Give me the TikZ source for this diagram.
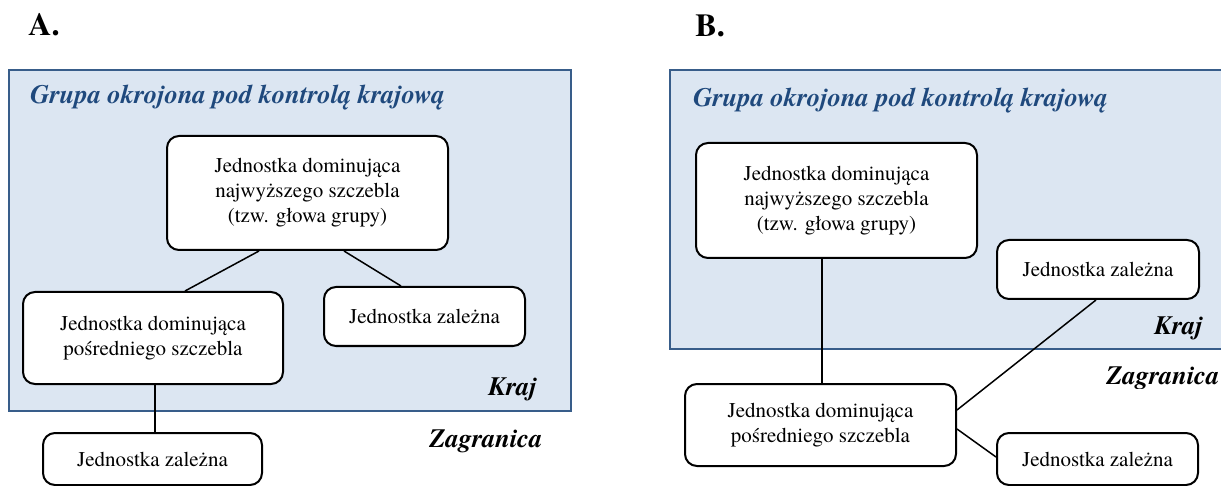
\documentclass[tikz,border=0pt]{standalone}
\usepackage{fontspec}
\setmainfont{texgyretermes}[Extension=.otf, UprightFont=*-regular, BoldFont=*-bold, ItalicFont=*-italic, BoldItalicFont=*-bolditalic]
\usetikzlibrary{calc}
\definecolor{regfill}{HTML}{DCE6F2}
\definecolor{regdraw}{HTML}{385D8A}
\definecolor{titleblue}{HTML}{1F497D}
\begin{document}
\begin{tikzpicture}[x=0.5pt,y=-0.5pt,
  box/.style={draw=black,line width=1pt,rounded corners=6pt,fill=white,align=center,inner sep=0pt,font=\fontsize{10.5}{12.5}\selectfont},
  conn/.style={draw=black,line width=0.75pt},
  region/.style={draw=regdraw,line width=1pt,fill=regfill,inner sep=0pt},
  rtitle/.style={font=\fontsize{13.25}{15}\selectfont\bfseries\itshape,text=titleblue,inner sep=0pt,anchor=base west},
  side/.style={font=\fontsize{13.25}{15}\selectfont\bfseries\itshape,inner sep=0pt},
  panel/.style={font=\fontsize{16}{18}\selectfont\bfseries,inner sep=0pt,anchor=base west}]
\clip (0,0) rectangle (1221,486);
\fill[white] (0,0) rectangle (1221,486);
% panel letters
\node[panel] (labA) at (28,36) {A.};
\node[panel] (labB) at (695,37) {B.};
% regions
\node[region,minimum width=281pt,minimum height=170.5pt] (regA) at (290,240.5) {};
\node[region,minimum width=285pt,minimum height=139.5pt] (regB) at (955,209.5) {};
\node[rtitle] (titA) at (30,104) {Grupa okrojona pod kontrolą krajową};
\node[rtitle] (titB) at (693,107) {Grupa okrojona pod kontrolą krajową};
\node[side,anchor=base east] (krajA) at (537,395) {Kraj};
\node[side,anchor=base west] (zagA) at (429,447) {Zagranica};
\node[side,anchor=base east] (krajB) at (1203,335) {Kraj};
\begin{scope}
\clip (1000,300) rectangle (1221,388);
\node[side,anchor=base west] (zagB) at (1106,384) {Zagranica};
\end{scope}
% nodes A
\node[box,minimum width=140.5pt,minimum height=57pt] (topA) at (307.5,193) {Jednostka dominująca\\najwyższego szczebla\\(tzw. głowa grupy)};
\node[box,minimum width=130pt,minimum height=46pt] (midA) at (153,338) {Jednostka dominująca\\pośredniego szczebla};
\node[box,minimum width=100.5pt,minimum height=29.5pt] (zalA1) at (424.5,316.5) {Jednostka zależna};
\node[box,minimum width=109.5pt,minimum height=26pt] (zalA2) at (152.5,459) {Jednostka zależna};
% nodes B
\node[box,minimum width=140.5pt,minimum height=57.5pt] (topB) at (836.5,200.5) {Jednostka dominująca\\najwyższego szczebla\\(tzw. głowa grupy)};
\node[box,minimum width=135.5pt,minimum height=41pt] (midB) at (820.5,425) {Jednostka dominująca\\pośredniego szczebla};
\node[box,minimum width=101pt,minimum height=29.5pt] (zalB1) at (1098,269.5) {Jednostka zależna};
\node[box,minimum width=100.5pt,minimum height=26pt] (zalB2) at (1097.5,459) {Jednostka zależna};
% connectors
\draw[conn] ($(topA.south west)+(93,0)$) -- ($(midA.north west)+(163,0)$);
\draw[conn] ($(topA.south west)+(178,0)$) -- ($(zalA1.north west)+(78,0)$);
\draw[conn] ($(midA.south west)+(133,0)$) -- ($(zalA2.north west)+(113,0)$);
\draw[conn] ($(topB.south west)+(127,0)$) -- ($(midB.north west)+(138,0)$);
\draw[conn] ($(zalB1.south west)+(100,0)$) -- ($(midB.north east)+(0,27)$);
\draw[conn] ($(midB.north east)+(0,46)$) -- ($(zalB2.north west)+(0,25)$);
\end{tikzpicture}
\end{document}
